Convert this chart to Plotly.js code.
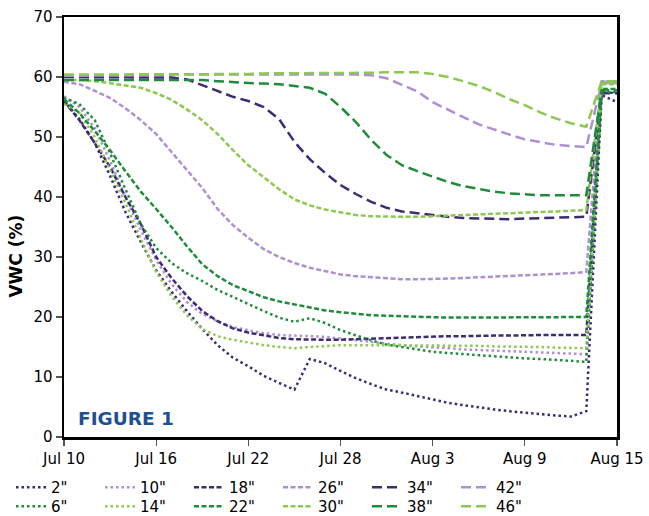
<!DOCTYPE html>
<html>
<head>
<meta charset="utf-8">
<script src="https://cdn.plot.ly/plotly-3.0.1.min.js"></script>
<style>html,body{margin:0;padding:0;background:#fff;}#chart{width:649px;height:516px;}</style>
</head>
<body>
<div id="chart"></div>
<script>
// Dates: daily from Jul 10 to Aug 15
var dates = ['2019-07-10','2019-07-11','2019-07-12','2019-07-13','2019-07-14','2019-07-15','2019-07-16','2019-07-17','2019-07-18','2019-07-19',
  '2019-07-20','2019-07-21','2019-07-22','2019-07-23','2019-07-24','2019-07-25','2019-07-26','2019-07-27','2019-07-28','2019-07-29',
  '2019-07-30','2019-07-31','2019-08-01','2019-08-02','2019-08-03','2019-08-04','2019-08-05','2019-08-06','2019-08-07','2019-08-08',
  '2019-08-09','2019-08-10','2019-08-11','2019-08-12','2019-08-13','2019-08-14','2019-08-15'];

var seriesNames = ['2"','10"','18"','26"','34"','42"','6"','14"','22"','30"','38"','46"'];

var v2  = [56,53,49,43.5,37.5,32.5,27.8,24.2,21,18,15.3,13.2,11.8,10.2,9,7.9,13,12.3,11,9.8,8.8,7.9,7.4,6.8,6.3,5.7,5.3,4.9,4.6,4.3,4.0,3.8,3.6,3.4,4.3,57,55.8];
var v6  = [56.5,55.5,52.8,47.3,41.3,35.5,31.5,29,27.3,26,24.5,23.3,22.2,21,19.9,19.2,19.8,19,17.8,16.9,16.1,15.4,15,14.6,14.2,14,13.8,13.6,13.4,13.2,13.1,13,12.9,12.7,12.5,57.5,57.5];
var v10 = [56.8,55,51.5,46,40,34.5,29.5,25.5,22.5,20.5,19.3,18.3,17.8,17.3,17,16.9,16.8,16.7,16.4,16.1,15.8,15.6,15.3,15.1,15,14.8,14.6,14.5,14.4,14.3,14.2,14.1,14,13.9,13.8,59.3,59.3];
var v14 = [55.5,54,50,44.5,39,33,27.5,23.5,20.3,18,16.8,16.2,15.7,15.3,15,14.8,15,15.2,15.3,15.3,15.3,15.3,15.3,15.3,15.3,15.2,15.2,15.2,15.1,15.1,15,15,14.9,14.9,14.8,59,59];
var v18 = [56,52.8,49,45,40,35.5,30,26.5,23.5,21,19.3,18.1,17.4,16.9,16.5,16.3,16.2,16.2,16.2,16.3,16.4,16.5,16.5,16.6,16.7,16.8,16.8,16.9,16.9,16.9,17,17,17,17,17,57.5,57.3];
var v22 = [56.3,54,51,47.8,44.3,40.9,38,35,31.8,28.8,26.8,25.3,24.3,23.3,22.6,22.1,21.6,21.1,20.8,20.5,20.3,20.2,20.1,20,20,19.9,19.9,19.9,19.9,19.9,19.9,20,20,20,20,58,58];
var v26 = [59.2,58.8,57.7,56.5,54.8,52.8,50.5,47.5,44.5,41.5,38,35.3,33.2,31.3,30,29,28.2,27.6,27.1,26.8,26.6,26.4,26.3,26.3,26.3,26.4,26.5,26.6,26.7,26.8,26.9,27,27.1,27.3,27.5,59.2,59.2];
var v30 = [59.5,59.5,59.3,59,58.6,58.2,57.3,56.2,54.6,52.8,50.5,47.8,45.3,43.3,41.3,39.6,38.6,37.9,37.4,37,36.8,36.7,36.7,36.7,36.8,36.9,37,37.1,37.2,37.3,37.4,37.5,37.6,37.7,37.8,58.8,58.8];
var v34 = [60,60,60,60,60,60,60,59.9,59.6,58.6,57.6,56.7,56,55,53,49.2,46.3,44,42,40.5,39.2,38.2,37.6,37.3,36.9,36.7,36.5,36.4,36.3,36.3,36.4,36.5,36.6,36.6,36.7,57.3,57.3];
var v38 = [59.5,59.5,59.5,59.5,59.5,59.5,59.5,59.5,59.5,59.5,59.3,59.1,59,58.9,58.8,58.5,58.2,57.2,55,52.5,49.5,47,45.3,44.3,43.4,42.5,41.8,41.3,40.9,40.6,40.4,40.3,40.3,40.3,40.3,57.8,57.8];
var v42 = [60.2,60.2,60.2,60.3,60.3,60.3,60.3,60.4,60.4,60.4,60.4,60.5,60.5,60.5,60.5,60.5,60.5,60.5,60.5,60.4,60.3,59.8,58.7,57.6,55.8,54.5,53.3,52.1,51.2,50.4,49.6,49.1,48.7,48.5,48.3,59,59];
var v46 = [60.4,60.4,60.4,60.4,60.4,60.4,60.5,60.5,60.5,60.5,60.5,60.5,60.5,60.6,60.6,60.6,60.6,60.6,60.7,60.7,60.7,60.8,60.8,60.8,60.5,60,59.3,58.5,57.5,56.3,55.3,54.1,53.1,52.3,51.7,59.3,59.3];

var seriesValues = [v2, v10, v18, v26, v34, v42, v6, v14, v22, v30, v38, v46];

var yTickVals = [0,10,20,30,40,50,60,70];
var xTickVals = ['2019-07-10','2019-07-16','2019-07-22','2019-07-28','2019-08-03','2019-08-09','2019-08-15'];
var xTickText = ['Jul 10','Jul 16','Jul 22','Jul 28','Aug 3','Aug 9','Aug 15'];

var DP = '#3d2b73', LP = '#ad90d2', DG = '#1e8c3a', LG = '#8dc850';
var colors = [DP, LP, DP, LP, DP, LP, DG, LG, DG, LG, DG, LG];
var DOT = '2.5px,3px', SDASH = '5px,2.5px', LDASH = '10px,5px';
var dashes = [DOT, DOT, SDASH, SDASH, LDASH, LDASH, DOT, DOT, SDASH, SDASH, LDASH, LDASH];

var traces = seriesNames.map(function(n, i){
  return {
    x: dates, y: seriesValues[i], name: n, type: 'scatter', mode: 'lines',
    legend: i < 6 ? 'legend' : 'legend2',
    line: {color: colors[i], width: 2.5, dash: dashes[i]}
  };
});

var F = 'DejaVu Sans, Verdana, sans-serif';
function legendAt(ytop) {
  return {
    orientation: 'h', xref: 'container', yref: 'container',
    x: 11 / 649, xanchor: 'left', y: ytop, yanchor: 'top',
    entrywidth: 44, entrywidthmode: 'pixels', traceorder: 'normal',
    font: {family: F, size: 15, color: '#000'},
    bgcolor: 'rgba(0,0,0,0)', borderwidth: 0
  };
}
var layout = {
  width: 649, height: 516,
  margin: {l: 64, r: 32, t: 17, b: 79},
  paper_bgcolor: '#fff', plot_bgcolor: '#fff',
  font: {family: F, size: 15, color: '#000'},
  showlegend: true,
  legend: legendAt((516 - 471) / 516),
  legend2: legendAt((516 - 490) / 516),
  xaxis: {
    type: 'date', range: ['2019-07-10', '2019-08-15'],
    tickvals: xTickVals, ticktext: xTickText,
    showgrid: false, zeroline: false,
    showline: true, linecolor: '#000', linewidth: 2.5, mirror: true,
    ticks: 'outside', ticklen: 6, tickwidth: 1.3, tickcolor: '#555',
    tickfont: {family: F, size: 15, color: '#000'}
  },
  yaxis: {
    range: [0, 70], tickvals: yTickVals,
    showgrid: false, zeroline: false,
    showline: true, linecolor: '#000', linewidth: 2.5, mirror: true,
    ticks: 'outside', ticklen: 6, tickwidth: 1.3, tickcolor: '#555',
    tickfont: {family: F, size: 15, color: '#000'}
  },
  annotations: [
    {text: '<b>VWC (%)</b>', xref: 'paper', yref: 'paper', x: -0.0868, y: 0.432,
     xanchor: 'center', yanchor: 'middle',
     textangle: -90, showarrow: false, font: {family: F, size: 17, color: '#000'}},
    {text: '<b>FIGURE 1</b>', xref: 'paper', yref: 'paper', x: 0.021, y: 0.045,
     xanchor: 'left', yanchor: 'middle', showarrow: false,
     font: {family: F, size: 18.5, color: '#1f5096'}}
  ]
};

Plotly.newPlot('chart', traces, layout, {displayModeBar: false, staticPlot: true});
</script>
</body>
</html>
